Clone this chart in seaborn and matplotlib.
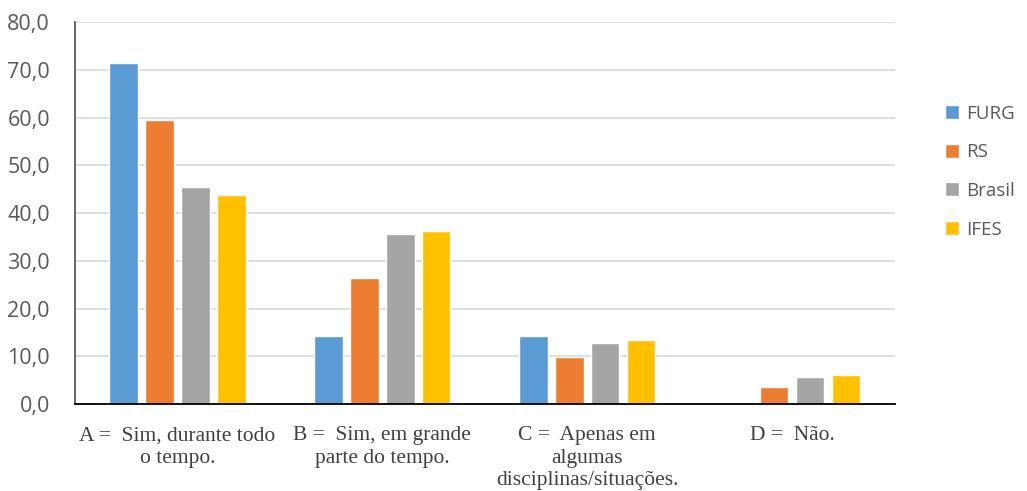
import matplotlib
matplotlib.use("Agg")
import matplotlib.pyplot as plt
import seaborn as sns
import pandas as pd
from matplotlib.ticker import FuncFormatter

# data
categories = ["A =  Sim, durante todo\no tempo.",
              "B =  Sim, em grande\nparte do tempo.",
              "C =  Apenas em\nalgumas\ndisciplinas/situações.",
              "D =  Não."]
series = ["FURG", "RS", "Brasil", "IFES"]
furg = [71.5, 14.3, 14.3, 0.0]
rs = [59.6, 26.4, 9.9, 3.5]
brasil = [45.4, 35.7, 12.7, 5.7]
ifes = [43.8, 36.3, 13.5, 6.0]
colors = ["#5B9BD5", "#ED7D31", "#A5A5A5", "#FFC000"]

rows = []
for name, vals in zip(series, [furg, rs, brasil, ifes]):
    for cat, v in zip(categories, vals):
        rows.append({"cat": cat, "serie": name, "valor": v})
df = pd.DataFrame(rows)

sns.set_style("white")
plt.rcParams["font.family"] = ["Open Sans", "DejaVu Sans"]

fig = plt.figure(figsize=(10.27, 4.91), dpi=100)
ax = fig.add_axes([0.073, 0.177, 0.798, 0.778])
sns.barplot(data=df, x="cat", y="valor", hue="serie", palette=colors,
            width=0.7, gap=0.2, ax=ax, saturation=1, legend=True)

ax.set_ylim(0, 80)
ax.set_yticks(range(0, 81, 10))
ax.yaxis.set_major_formatter(FuncFormatter(lambda v, p: f"{v:.1f}".replace(".", ",")))
ax.yaxis.grid(True, color="#d9d9d9", linewidth=1.2)
ax.set_axisbelow(True)
ax.set_xlim(-0.5, 3.5)
ax.set_xlabel("")
ax.set_ylabel("")
for s in ["top", "right"]:
    ax.spines[s].set_visible(False)
ax.spines["left"].set_color("#595959")
ax.spines["left"].set_linewidth(1.3)
ax.spines["bottom"].set_color("#000000")
ax.spines["bottom"].set_linewidth(1.3)
ax.tick_params(axis="y", length=0, labelsize=15.5, labelcolor="#595959", pad=18)
ax.tick_params(axis="x", length=0, pad=16)
for lab in ax.get_xticklabels():
    lab.set_fontfamily("Liberation Serif")
    lab.set_fontsize(15.5)
    lab.set_color("#404040")
    lab.set_linespacing(1.25)

ax.legend(loc="upper left", bbox_to_anchor=(0.911, 0.806),
          bbox_transform=fig.transFigure, frameon=False, borderpad=0,
          fontsize=13.5, labelcolor="#595959", handlelength=0.75, handleheight=0.75,
          handletextpad=0.4, labelspacing=1.1)

fig.savefig("out.png", dpi=100)
